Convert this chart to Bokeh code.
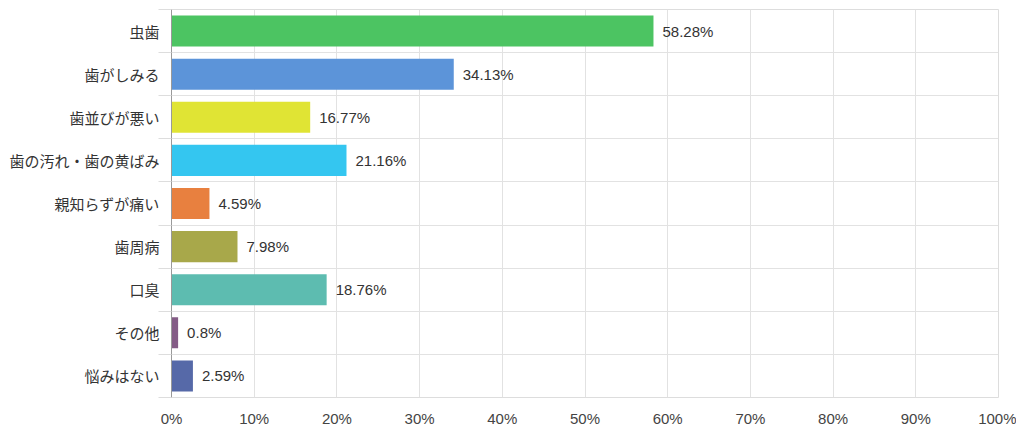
from bokeh.plotting import figure
from bokeh.models import ColumnDataSource, FixedTicker, Range1d
from bokeh.core.properties import value
from bokeh.embed import file_html
from bokeh.resources import INLINE

categories = ["虫歯", "歯がしみる", "歯並びが悪い", "歯の汚れ・歯の黄ばみ", "親知らずが痛い",
              "歯周病", "口臭", "その他", "悩みはない"]
values = [58.28, 34.13, 16.77, 21.16, 4.59, 7.98, 18.76, 0.8, 2.59]
colors = ["#4cc462", "#5c94d9", "#e0e434", "#34c6f0", "#e8803f",
          "#a8a84a", "#5dbcb0", "#845c86", "#5669a8"]
x_ticks = [0, 10, 20, 30, 40, 50, 60, 70, 80, 90, 100]

n = len(categories)
ypos = [n - 0.5 - i for i in range(n)]
labels = [f"{v:g}%" for v in values]

src = ColumnDataSource(dict(y=ypos, v=values, c=colors, lab=labels))

p = figure(width=1016, height=430, output_backend="svg", toolbar_location=None,
           x_range=Range1d(0, 100), y_range=Range1d(0, n),
           min_border_left=171, min_border_right=18, min_border_top=9, min_border_bottom=33)

p.hbar(y="y", right="v", left=0, height=0.72, fill_color="c", line_color=None, source=src)
p.text(x="v", y="y", text="lab", source=src, x_offset=9, text_baseline="middle",
       text_font=value("Liberation Sans"), text_font_size="15px", text_color="#333333")

p.xaxis.ticker = FixedTicker(ticks=x_ticks)
p.xaxis.major_label_overrides = {t: f"{t}%" for t in x_ticks}
p.xaxis.axis_line_color = None
p.xaxis.major_tick_line_color = None
p.xaxis.major_tick_out = 0
p.xaxis.minor_tick_line_color = None
p.xaxis.major_label_text_font = "Liberation Sans"
p.xaxis.major_label_text_font_size = "15px"
p.xaxis.major_label_text_color = "#444444"
p.xaxis.major_label_standoff = 12

p.yaxis.ticker = FixedTicker(ticks=ypos, minor_ticks=list(range(n + 1)))
p.yaxis.major_label_overrides = {y: c for y, c in zip(ypos, categories)}
p.yaxis.major_label_text_font = "Noto Sans CJK JP"
p.yaxis.major_label_text_font_size = "15px"
p.yaxis.major_label_text_color = "#333333"
p.yaxis.major_tick_line_color = None
p.yaxis.major_tick_out = 0
p.yaxis.minor_tick_line_color = "#dddddd"
p.yaxis.minor_tick_out = 13
p.yaxis.minor_tick_in = 0
p.yaxis.axis_line_color = "#999999"
p.yaxis.major_label_standoff = -1

p.xgrid.ticker = FixedTicker(ticks=x_ticks)
p.xgrid.grid_line_color = "#e2e2e2"
p.ygrid.ticker = FixedTicker(ticks=list(range(n + 1)))
p.ygrid.grid_line_color = "#e2e2e2"
p.outline_line_color = "#dddddd"

open("out.html", "w").write(file_html(p, INLINE))
